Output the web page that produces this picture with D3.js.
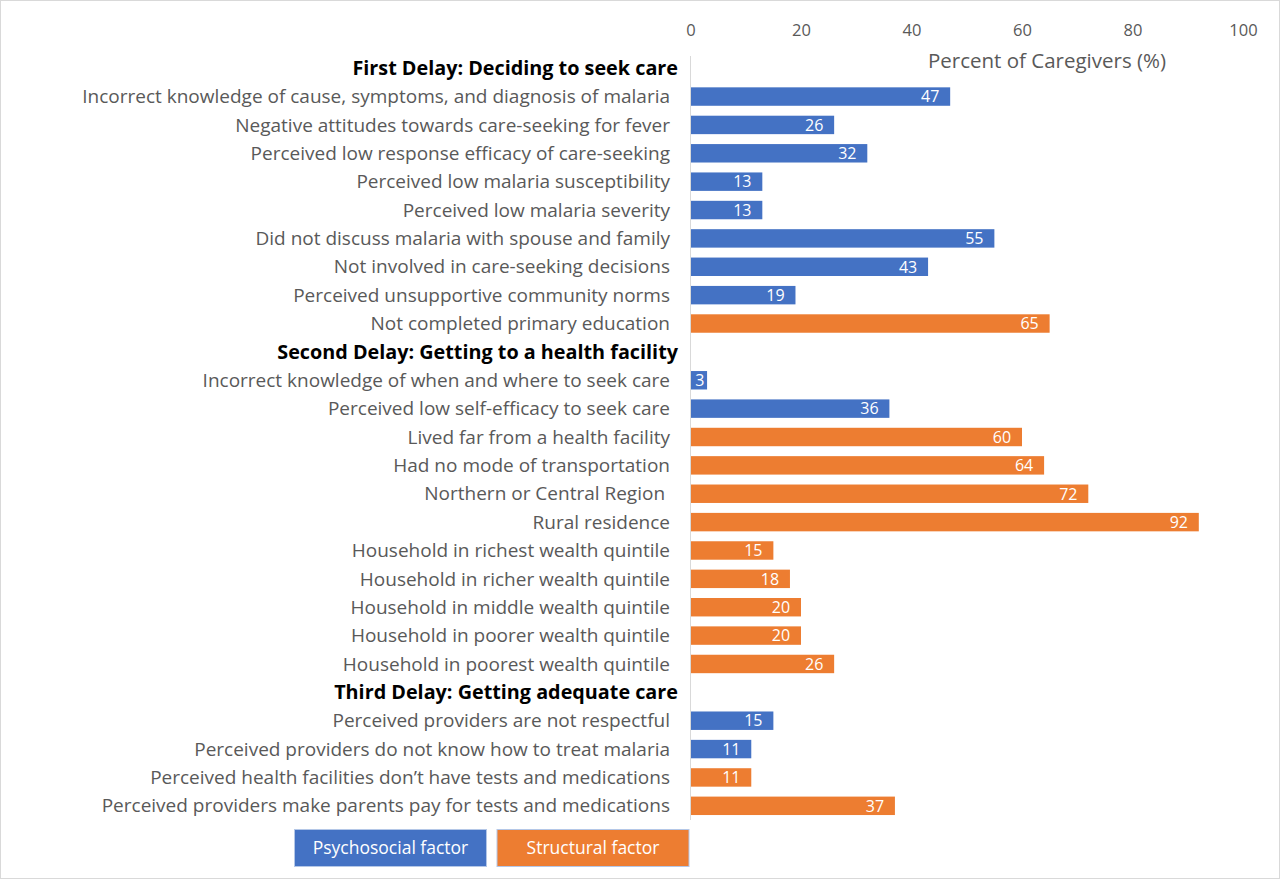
<!DOCTYPE html>
<html><head><meta charset="utf-8">
<script src="https://cdn.jsdelivr.net/npm/d3@7"></script>
<style>body{margin:0;background:#fff}svg{display:block}text{white-space:pre}</style>
</head><body><svg id="c" width="1280" height="879"></svg>
<script>
const rowLabels = [
"First Delay: Deciding to seek care",
"Incorrect knowledge of cause, symptoms, and diagnosis of malaria",
"Negative attitudes towards care-seeking for fever",
"Perceived low response efficacy of care-seeking",
"Perceived low malaria susceptibility",
"Perceived low malaria severity",
"Did not discuss malaria with spouse and family",
"Not involved in care-seeking decisions",
"Perceived unsupportive community norms",
"Not completed primary education",
"Second Delay: Getting to a health facility",
"Incorrect knowledge of when and where to seek care",
"Perceived low self-efficacy to seek care",
"Lived far from a health facility",
"Had no mode of transportation",
"Northern or Central Region ",
"Rural residence",
"Household in richest wealth quintile",
"Household in richer wealth quintile",
"Household in middle wealth quintile",
"Household in poorer wealth quintile",
"Household in poorest wealth quintile",
"Third Delay: Getting adequate care",
"Perceived providers are not respectful",
"Perceived providers do not know how to treat malaria",
"Perceived health facilities don\u2019t have tests and medications",
"Perceived providers make parents pay for tests and medications"
];
const values = [null,47,26,32,13,13,55,43,19,65,null,3,36,60,64,72,92,15,18,20,20,26,null,15,11,11,37];
const factorType = ["H","P","P","P","P","P","P","P","P","S","H","P","P","S","S","S","S","S","S","S","S","S","H","P","P","S","S"];
const xTicks = [0,20,40,60,80,100];
const legendLabels = ["Psychosocial factor","Structural factor"];
const axisTitle = "Percent of Caregivers (%)";

const colors = {P:"#4472C4", S:"#ED7D31"};
const svg = d3.select("#c");
svg.append("rect").attr("x",0.5).attr("y",0.5).attr("width",1279).attr("height",878)
  .attr("fill","#fff").attr("stroke","#d9d9d9");

const x = d3.scaleLinear().domain([0,100]).range([690.5,1243]);
const y = d3.scaleBand().domain(d3.range(rowLabels.length)).range([54,820]).paddingInner(0.35).paddingOuter(0.175);
const font = "'Open Sans', sans-serif";

// top axis
const ax = svg.append("g").attr("transform","translate(0,30)")
  .call(d3.axisTop(x).tickValues(xTicks).tickSize(0).tickPadding(0));
ax.select(".domain").remove();
ax.selectAll("text").attr("font-family",font).attr("font-size",16.5).attr("fill","#595959").attr("dy","0.35em");

// vertical axis line
svg.append("line").attr("x1",x(0)).attr("x2",x(0)).attr("y1",56).attr("y2",820)
  .attr("stroke","#d9d9d9").attr("stroke-width",1);

svg.append("text").attr("x",1047).attr("y",63).attr("text-anchor","middle").attr("dominant-baseline","middle")
  .attr("font-family",font).attr("font-size",20.5).attr("fill","#595959").text(axisTitle);

const rows = d3.range(rowLabels.length);
svg.append("g").selectAll("text").data(rows).join("text")
  .attr("x",i=>factorType[i]==="H"?678:670)
  .attr("y",i=>y(i)+y.bandwidth()/2)
  .attr("dy","0.35em")
  .attr("text-anchor","end")
  .attr("font-family",font)
  .attr("font-size",i=>factorType[i]==="H"?19.8:19)
  .attr("font-weight",i=>factorType[i]==="H"?"bold":"normal")
  .attr("fill",i=>factorType[i]==="H"?"#000":"#595959")
  .text(i=>rowLabels[i]);

const barRows = rows.filter(i=>values[i]!==null);
svg.append("g").selectAll("rect").data(barRows).join("rect")
  .attr("x",x(0)+0.5).attr("y",i=>y(i)).attr("height",y.bandwidth())
  .attr("width",i=>x(values[i])-x(0)-0.5)
  .attr("fill",i=>colors[factorType[i]]);

svg.append("g").selectAll("text").data(barRows).join("text")
  .attr("x",i=>values[i]<5 ? x(0)+ (x(values[i])-x(0))/2 + 1 : x(values[i])-20)
  .attr("y",i=>y(i)+y.bandwidth()/2)
  .attr("dy","0.36em")
  .attr("text-anchor","middle")
  .attr("font-family",font).attr("font-size",16).attr("fill","#fff")
  .text(i=>values[i]);

// legend
const lx = d3.scaleBand().domain(legendLabels).range([294.5,689]).paddingInner(0.052);
const lg = svg.append("g").selectAll("g").data(legendLabels).join("g")
  .attr("transform",d=>`translate(${lx(d)},829.5)`);
lg.append("rect").attr("width",lx.bandwidth()).attr("height",37)
  .attr("fill",(d,i)=>i===0?colors.P:colors.S).attr("stroke","#b4c7e7").attr("stroke-width",1);
lg.append("text").attr("x",lx.bandwidth()/2).attr("y",18.5).attr("dy","0.36em").attr("text-anchor","middle")
  .attr("font-family",font).attr("font-size",17.5).attr("fill","#fff").text(d=>d);
</script></body></html>
